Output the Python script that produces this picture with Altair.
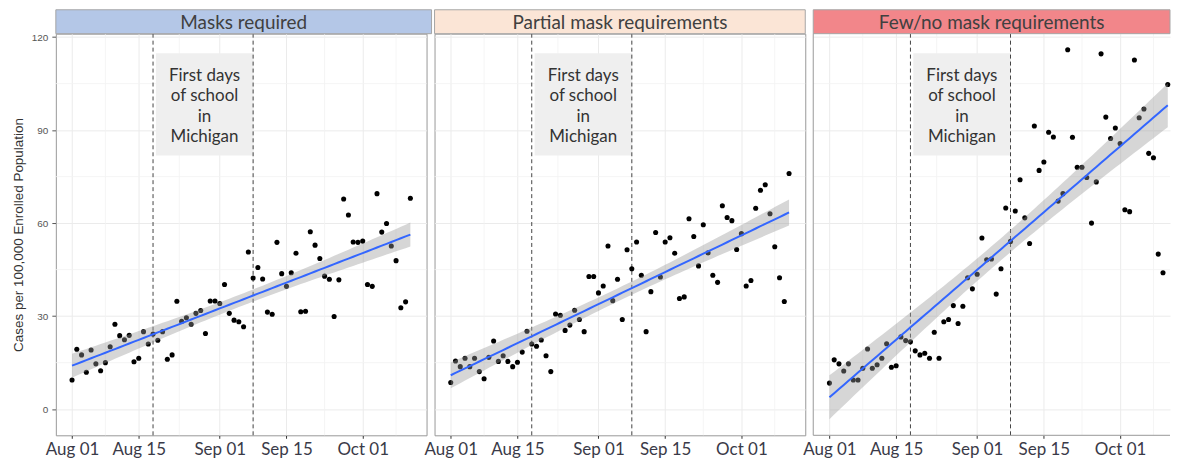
import altair as alt
import pandas as pd
import numpy as np

# ---------------- data ----------------
start_date = "2021-08-01"
n_days = 72

panel_titles = ["Masks required", "Partial mask requirements", "Few/no mask requirements"]
strip_colors = ["#b4c7e7", "#fbe5d6", "#f2868a"]

masks_required = [9.4, 19.3, 17.5, 11.9, 19.1, 14.6, 12.4, 15.0, 20.1, 27.4,
                  23.7, 22.4, 23.8, 15.3, 16.4, 25.0, 21.0, 24.2, 22.2, 25.0,
                  16.1, 17.5, 34.8, 28.3, 29.5, 27.4, 30.9, 31.8, 24.4, 34.9,
                  34.9, 34.1, 40.2, 30.9, 28.7, 28.2, 26.6, 50.7, 42.3, 45.7,
                  42.0, 31.3, 30.6, 53.8, 43.7, 39.6, 44.0, 50.3, 31.4, 31.6,
                  57.2, 52.9, 48.6, 42.9, 41.9, 29.9, 41.7, 67.8, 62.6, 53.9,
                  53.8, 54.2, 40.2, 39.6, 69.5, 57.1, 59.9, 52.6, 47.9, 32.7,
                  34.6, 68.0]

partial_masks = [8.6, 15.5, 13.7, 16.4, 13.7, 16.4, 12.1, 9.8, 16.7, 22.0,
                 15.4, 17.2, 15.4, 13.7, 15.1, 18.4, 25.1, 21.0, 20.3, 22.3,
                 17.2, 12.1, 30.7, 30.3, 25.4, 27.1, 31.9, 28.9, 25.0, 42.8,
                 42.8, 37.5, 39.7, 52.6, 35.0, 41.9, 28.9, 51.4, 45.3, 53.9,
                 43.2, 25.0, 37.9, 57.0, 42.6, 53.9, 55.3, 50.3, 35.7, 36.2,
                 61.4, 55.7, 46.2, 59.5, 50.4, 43.2, 40.9, 65.6, 61.8, 60.8,
                 51.5, 56.6, 39.7, 41.5, 64.8, 70.6, 72.4, 63.0, 52.4, 42.4,
                 34.7, 76.0]

few_no_masks = [8.4, 15.9, 14.6, 12.3, 14.6, 9.4, 9.4, 13.2, 19.4, 13.2,
                14.3, 16.4, 21.1, 13.5, 14.0, 23.3, 22.1, 21.7, 18.8, 17.5,
                18.0, 16.4, 24.8, 16.4, 28.2, 28.9, 33.4, 27.6, 33.2, 42.4,
                38.8, 43.5, 55.2, 48.2, 48.4, 37.1, 45.3, 64.9, 54.1, 63.9,
                74.0, 61.7, 53.4, 91.3, 77.0, 79.7, 89.3, 87.8, 67.1, 69.5,
                115.9, 87.7, 78.0, 78.0, 74.7, 60.0, 73.3, 114.6, 94.2, 87.3,
                90.7, 85.7, 64.3, 63.7, 112.6, 94.0, 96.8, 82.5, 81.1, 50.0,
                44.0, 104.7]

school_start_dates = ["2021-08-18", "2021-09-08"]
x_major_dates = ["2021-08-01", "2021-08-15", "2021-09-01", "2021-09-15", "2021-10-01"]
x_minor_dates = ["2021-08-08", "2021-08-23T12:00", "2021-09-08", "2021-09-23", "2021-10-08"]
y_major = [0, 30, 60, 90, 120]
y_minor = [15, 45, 75, 105]

box_dates = ["2021-08-18T14:24", "2021-09-08T02:24"]
box_values = [81.8, 114.8]
note_date = "2021-08-28T19:12"
note_value = 107.5
note_text = "First days\nof school\nin\nMichigan"

# ---------------- layout helpers ----------------
W = 372
W3 = 358
H = 403
STRIP_H = 24
PX_PER_UNIT = 3.111
Y_TOP = 121.1
base = pd.Timestamp(start_date)
days_per_px = 77.8 / W


def dt(s):
    t = pd.Timestamp(s)
    return alt.DateTime(year=t.year, month=t.month, date=t.day, hours=t.hour, minutes=t.minute)


def iso(t):
    return pd.Timestamp(t).strftime("%Y-%m-%dT%H:%M")


dates = [iso(d) for d in pd.date_range(start_date, periods=n_days, freq="D")]
lo = base + pd.Timedelta(days=-3.4)


def fit_band(vals):
    x = np.arange(len(vals), dtype=float)
    y = np.asarray(vals, dtype=float)
    n = len(x)
    b, a = np.polyfit(x, y, 1)
    yhat = a + b * x
    s = np.sqrt(((y - yhat) ** 2).sum() / (n - 2))
    sxx = ((x - x.mean()) ** 2).sum()
    se = s * np.sqrt(1.0 / n + (x - x.mean()) ** 2 / sxx)
    t = 1.994
    return pd.DataFrame({"date": dates, "cases": yhat, "lo": yhat - t * se, "hi": yhat + t * se})


label_color = "#3a3a48"


def panel(i, vals, width, strip_w, first, last):
    hi = lo + pd.Timedelta(days=width * days_per_px)
    x_scale = alt.Scale(domain=[dt(lo), dt(hi)])
    y_scale = alt.Scale(domain=[Y_TOP - H / PX_PER_UNIT, Y_TOP], nice=False, zero=False)
    x_axis = alt.Axis(values=[dt(d) for d in x_major_dates], format="%b %d", grid=True,
                      gridColor="#ebebeb", gridWidth=1, labelFont="Lato", labelFontSize=17,
                      labelColor=label_color, tickSize=3, tickColor="#333333", domain=False,
                      labelPadding=3, title=None, labelFlush=False, labelOverlap=False)
    if first:
        y_axis = alt.Axis(values=y_major, grid=True, gridColor="#ebebeb", gridWidth=1,
                          labelFont="Liberation Sans", labelFontSize=10, labelColor="#555555",
                          tickSize=4, tickColor="#555555", domain=False, labelPadding=4,
                          title="Cases per 100,000 Enrolled Population", titleFont="Liberation Sans",
                          titleFontSize=13.5, titleFontWeight="normal", titleColor="#333333",
                          titlePadding=6)
    else:
        y_axis = alt.Axis(values=y_major, grid=True, gridColor="#ebebeb", gridWidth=1,
                          labels=False, ticks=False, domain=False, title=None)
    X = alt.X("date:T", scale=x_scale, axis=x_axis)
    Y = alt.Y("cases:Q", scale=y_scale, axis=y_axis)

    pts = pd.DataFrame({"date": dates, "cases": vals})
    band = fit_band(vals)

    vminor = alt.Chart(pd.DataFrame({"date": x_minor_dates})).mark_rule(
        color="#f2f2f2", strokeWidth=0.8).encode(x=X)
    hminor = alt.Chart(pd.DataFrame({"cases": y_minor})).mark_rule(
        color="#f2f2f2", strokeWidth=0.8).encode(y=Y)
    box = alt.Chart(pd.DataFrame({"date": [box_dates[0]], "date2": [box_dates[1]],
                                  "cases": [box_values[0]], "cases2": [box_values[1]]})).mark_rect(
        color="#efefef").encode(x=X, x2="date2:T", y=Y, y2="cases2:Q")
    dashed = alt.Chart(pd.DataFrame({"date": school_start_dates})).mark_rule(
        color="#444444", strokeWidth=1, strokeDash=[4, 3]).encode(x=X)
    points = alt.Chart(pts).mark_circle(color="black", size=26, opacity=1).encode(x=X, y=Y)
    ribbon = alt.Chart(band).mark_area(color="#999999", opacity=0.4).encode(
        x=X, y=alt.Y("lo:Q", scale=y_scale, axis=y_axis), y2="hi:Q")
    line = alt.Chart(band).mark_line(color="#3366ff", strokeWidth=2).encode(x=X, y=Y)
    note = alt.Chart(pd.DataFrame({"date": [note_date], "cases": [note_value], "t": [note_text]})).mark_text(
        font="Lato", fontSize=17, color="#333333", lineBreak="\n", lineHeight=20.5,
        align="center", baseline="middle").encode(x=X, y=Y, text="t:N")
    strip_df = pd.DataFrame({"title": [panel_titles[i]]})
    strip = alt.Chart(strip_df).mark_rect(
        color=strip_colors[i], stroke="#a6a6a6", strokeWidth=1).encode(
        x=alt.value(0), x2=alt.value(strip_w), y=alt.value(-STRIP_H), y2=alt.value(0))
    strip_text = alt.Chart(strip_df).mark_text(
        font="Lato", fontSize=19, color="#404040", align="center", baseline="middle").encode(
        x=alt.value(strip_w / 2), y=alt.value(-11), text="title:N")

    layers = [vminor, hminor, box, dashed, points, ribbon, line, note, strip, strip_text]
    if last:
        bdf = pd.DataFrame({"k": [0]})
        b_left = alt.Chart(bdf).mark_rule(color="#999999").encode(
            x=alt.value(0), y=alt.value(0), y2=alt.value(H))
        b_bottom = alt.Chart(bdf).mark_rule(color="#999999").encode(
            x=alt.value(0), x2=alt.value(width), y=alt.value(H))
        layers += [b_left, b_bottom]
        return alt.layer(*layers, view=alt.ViewBackground(stroke="transparent")).properties(
            width=width, height=H)
    return alt.layer(*layers).properties(width=width, height=H)


p1 = panel(0, masks_required, W, W + 5, True, False)
p2 = panel(1, partial_masks, W, W, False, False)
p3 = panel(2, few_no_masks, W3, W3, False, True)

chart = alt.hconcat(p1, p2, p3, spacing=8, bounds="flush").properties(
    padding={"left": 2, "top": 0, "right": 0, "bottom": 0}
).configure_view(stroke="#999999", strokeWidth=1)

chart.save("out.html", embed_options={"renderer": "svg", "actions": False})
